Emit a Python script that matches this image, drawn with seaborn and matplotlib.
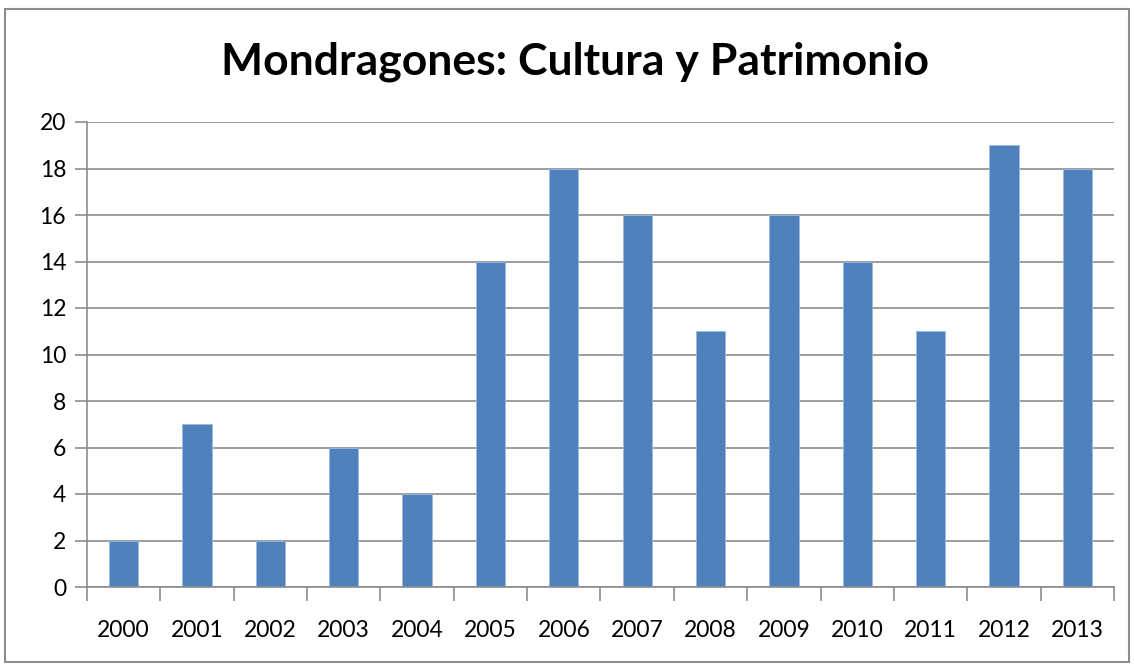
import matplotlib
matplotlib.use("Agg")
import matplotlib.pyplot as plt
import matplotlib.patches as patches
import seaborn as sns
import numpy as np
import pandas as pd

# Data
years = ["2000", "2001", "2002", "2003", "2004", "2005", "2006",
         "2007", "2008", "2009", "2010", "2011", "2012", "2013"]
counts = [2, 7, 2, 6, 4, 14, 18, 16, 11, 16, 14, 11, 19, 18]

df = pd.DataFrame({"year": years, "count": counts})

sns.set_theme(style="white")
plt.rcParams["font.family"] = ["Lato", "DejaVu Sans"]
plt.rcParams["text.color"] = "black"
plt.rcParams["xtick.color"] = "black"
plt.rcParams["ytick.color"] = "black"

fig = plt.figure(figsize=(11.34, 6.66), dpi=100)
ax = fig.add_axes([87 / 1134, 1 - 587 / 666, (1114 - 87) / 1134, (587 - 122) / 666])

sns.barplot(data=df, x="year", y="count", color="#4F81BD", width=0.4,
            saturation=1, edgecolor="#9DB9DE", linewidth=0.6, ax=ax)

ax.set_ylim(0, 20)
ax.set_xlim(-0.5, len(years) - 0.5)
ax.set_yticks(range(0, 21, 2))
ax.grid(axis="y", color="#8C8C8C", linewidth=1.2)
ax.set_axisbelow(True)

# category boundary ticks on x axis
ax.set_xticks(np.arange(-0.5, len(years), 1), minor=True)
ax.tick_params(axis="x", which="minor", length=10, width=1.2, color="#8C8C8C",
               direction="out", bottom=True)
ax.tick_params(axis="x", which="major", length=0, pad=24, labelsize=16.5,
               labelcolor="black")
ax.tick_params(axis="y", which="major", length=9, width=1.2, color="#8C8C8C",
               direction="out", left=True, pad=6, labelsize=16.5,
               labelcolor="black")

for side in ["top", "right"]:
    ax.spines[side].set_visible(False)
for side in ["left", "bottom"]:
    ax.spines[side].set_color("#8C8C8C")
    ax.spines[side].set_linewidth(1.2)

ax.set_xlabel("")
ax.set_ylabel("")

fig.text(575 / 1134, 1 - 62 / 666, "Mondragones: Cultura y Patrimonio",
         ha="center", va="center", fontsize=32, fontweight="bold",
         color="black")

# outer chart border
border = patches.Rectangle((5 / 1134, 4 / 666), 1124 / 1134, 653 / 666,
                           transform=fig.transFigure, fill=False,
                           edgecolor="#8C8C8C", linewidth=1.5)
fig.patches.append(border)

fig.savefig("out.png", dpi=100, facecolor="white")
plt.close(fig)
